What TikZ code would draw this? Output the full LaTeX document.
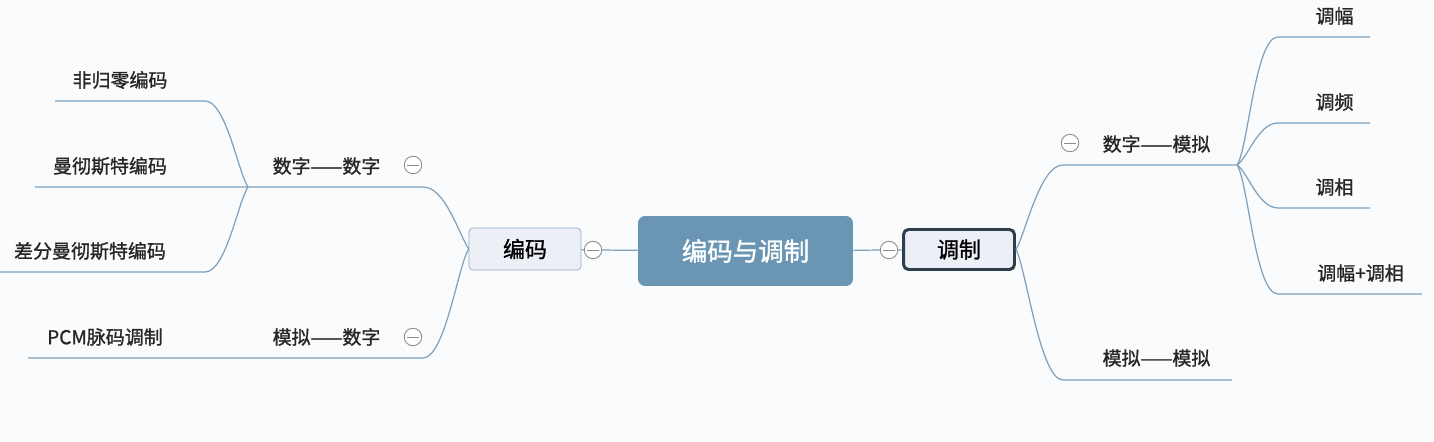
\documentclass[tikz,border=0pt]{standalone}
\usepackage{fontspec}
\setmainfont{Noto Sans CJK SC}[FakeBold=1.2]
\usetikzlibrary{positioning}
\definecolor{rootblue}{HTML}{6A95B3}
\definecolor{boxfill}{HTML}{ECF0F6}
\definecolor{boxedge}{HTML}{8EABC6}
\definecolor{darkedge}{HTML}{2F3E4C}
\definecolor{branchline}{HTML}{7FA1BD}
\definecolor{bgcol}{HTML}{FAFBFC}
\tikzset{
	rootnode/.style={
			rectangle,
			rounded corners=1.4mm,
			fill=rootblue,
			text=white,
			minimum width=43mm,
			minimum height=14mm,
			inner sep=0pt,
			font=\fontsize{14.5}{16}\selectfont
		},
	mainnode/.style={
			rectangle,
			rounded corners=0.8mm,
			draw=boxedge,
			fill=boxfill,
			minimum width=22.4mm,
			minimum height=8.4mm,
			inner sep=0pt,
			font=\fontsize{12.5}{14}\selectfont
		},
	focusnode/.style={
			mainnode,
			draw=darkedge,
			line width=1.7pt,
			rounded corners=1mm,
			minimum width=22.2mm,
			minimum height=8mm
		},
	togglenode/.style={
			circle,
			draw=gray!90,
			fill=white,
			line width=0.5pt,
			minimum size=3.5mm,
			inner sep=0pt,
			path picture={\draw[gray!90, line width=0.5pt]
				([xshift=0.6mm]path picture bounding box.west) --
				([xshift=-0.6mm]path picture bounding box.east);}
		},
	topicnode/.style={
			inner sep=0pt,
			text=black!85,
			font=\fontsize{10.8}{12}\selectfont
		},
	branch/.style={draw=branchline, line width=0.7pt}
}

\begin{document}
\begin{tikzpicture}[x=0.02cm, y=-0.02cm]
\fill[bgcol] (0,0) rectangle (1434,442);
\useasboundingbox (0,0) rectangle (1434,442);

\node[rootnode] (root) at (745.5,251) {编码与调制};
\node[mainnode] (enc) at (525,249) {编码};
\node[focusnode] (mod) at (959,249.5) {调制};
\node[togglenode] (t1) at (593,250) {};
\node[togglenode] (t2) at (889,250) {};

\draw[branch] (root) -- (t1) -- (enc);
\draw[branch] (root) -- (t2) -- (mod);

% left side
\node[topicnode] (dd) at (326.5,166) {数字——数字};
\node[togglenode] (t3) at (413,165) {};
\node[topicnode] (ad) at (326.5,337) {模拟——数字};
\node[togglenode] (t4) at (413,337) {};
\node[topicnode] (nrz) at (120,80) {非归零编码};
\node[topicnode] (man) at (110,166) {曼彻斯特编码};
\node[topicnode] (dman) at (90,251) {差分曼彻斯特编码};
\node[topicnode] (pcm) at (105,337) {PCM脉码调制};

\coordinate (ddR) at (423,187);
\coordinate (ddJ) at (248,187);
\coordinate (nrzL) at (55,101);
\coordinate (nrzR) at (205,101);
\coordinate (manL) at (35,187);
\coordinate (dmanL) at (0,272);
\coordinate (dmanR) at (205,272);
\coordinate (adR) at (423,358);
\coordinate (adJ) at (250,358);
\coordinate (pcmL) at (28,358);

\draw[branch] (enc.west) .. controls (458,232) and (445,187) .. (ddR) -- (ddJ) -- (manL);
\draw[branch] (enc.west) .. controls (458,266) and (445,358) .. (adR) -- (adJ) -- (pcmL);
\draw[branch] (ddJ) .. controls (238,172) and (226,101) .. (nrzR) -- (nrzL);
\draw[branch] (ddJ) .. controls (238,202) and (226,272) .. (dmanR) -- (dmanL);

% right side
\node[topicnode] (da) at (1156.5,144) {数字——模拟};
\node[togglenode] (t5) at (1070,143) {};
\node[topicnode] (aa) at (1156.5,358) {模拟——模拟};
\node[topicnode] (am) at (1334.5,16) {调幅};
\node[topicnode] (fm) at (1334.5,102) {调频};
\node[topicnode] (pm) at (1334.5,187) {调相};
\node[topicnode] (apm) at (1360.5,273) {调幅+调相};

\coordinate (daL) at (1063,165);
\coordinate (daJ) at (1237,165);
\coordinate (aaL) at (1063,380);
\coordinate (aaR) at (1232,380);
\coordinate (amL) at (1278,37);
\coordinate (amR) at (1370,37);
\coordinate (fmL) at (1278,123);
\coordinate (fmR) at (1370,123);
\coordinate (pmL) at (1278,208);
\coordinate (pmR) at (1370,208);
\coordinate (apmL) at (1278,294);
\coordinate (apmR) at (1422,294);

\draw[branch] (mod.east) .. controls (1026,232) and (1040,165) .. (daL) -- (daJ);
\draw[branch] (mod.east) .. controls (1026,268) and (1040,380) .. (aaL) -- (aaR);
\draw[branch] (daJ) .. controls (1248,150) and (1255,37) .. (amL) -- (amR);
\draw[branch] (daJ) .. controls (1248,158) and (1258,123) .. (fmL) -- (fmR);
\draw[branch] (daJ) .. controls (1248,172) and (1258,208) .. (pmL) -- (pmR);
\draw[branch] (daJ) .. controls (1248,180) and (1255,294) .. (apmL) -- (apmR);
\end{tikzpicture}
\end{document}
